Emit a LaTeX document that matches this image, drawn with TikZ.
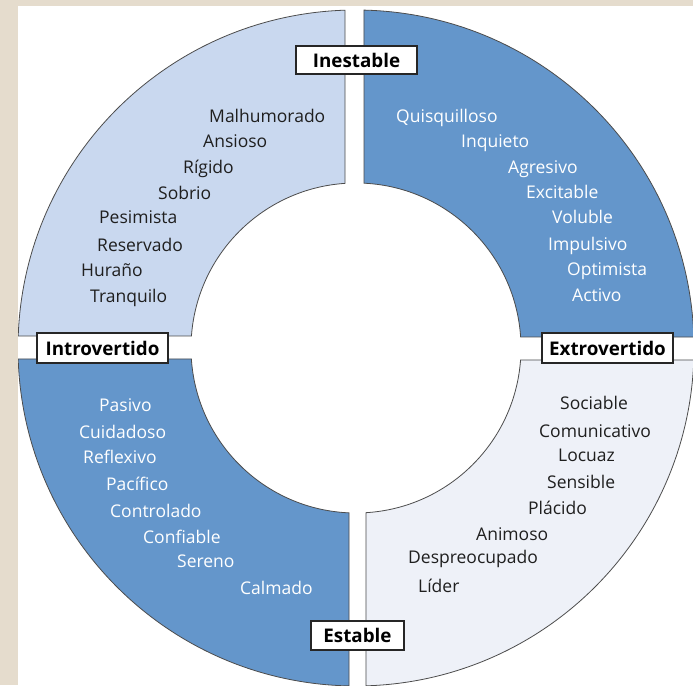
\documentclass[tikz,border=0pt]{standalone}
\usepackage{fontspec}
\setmainfont{Open Sans}
\definecolor{bgbeige}{HTML}{E5DCCD}
\definecolor{tlc}{HTML}{C9D8EF}
\definecolor{dkc}{HTML}{6496CB}
\definecolor{brc}{HTML}{EEF1F8}
\begin{document}
\begin{tikzpicture}[x=1pt,y=1pt,
  quad/.style={draw=black!70, line width=0.8pt},
  wrd/.style={anchor=base west, inner sep=0pt, font=\fontsize{17.5}{17.5}\selectfont},
  dk/.style={wrd, text=black!88},
  lt/.style={wrd, text=white},
  lab/.style={draw=black!85, line width=1.3pt, fill=white, inner sep=0pt,
    font=\bfseries\fontsize{18.8}{18.8}\selectfont}]
\useasboundingbox (0,0) rectangle (693,685);
\fill[bgbeige] (0,0) rectangle (693,685);
\fill[white] (18,0) rectangle (693,679);
\begin{scope}
\clip (18,0) rectangle (693,679);
\begin{scope}[shift={(356,337)}]
% top-left
\draw[quad,fill=tlc] ({90+asin(11/338)}:338) arc[start angle={90+asin(11/338)}, end angle={180-asin(12/338)}, radius=338]
  -- ({180-asin(12/165)}:165) arc[start angle={180-asin(12/165)}, end angle={90+asin(11/165)}, radius=165] -- cycle;
% top-right
\draw[quad,fill=dkc] ({asin(11/338)}:338) arc[start angle={asin(11/338)}, end angle={90-asin(8/338)}, radius=338]
  -- ({90-asin(8/165)}:165) arc[start angle={90-asin(8/165)}, end angle={asin(11/165)}, radius=165] -- cycle;
% bottom-left
\draw[quad,fill=dkc] ({180+asin(11/338)}:338) arc[start angle={180+asin(11/338)}, end angle={270-asin(7/338)}, radius=338]
  -- ({270-asin(7/165)}:165) arc[start angle={270-asin(7/165)}, end angle={180+asin(11/165)}, radius=165] -- cycle;
% bottom-right
\draw[quad,fill=brc] ({270+asin(10/338)}:338) arc[start angle={270+asin(10/338)}, end angle={360-asin(12/338)}, radius=338]
  -- ({360-asin(12/165)}:165) arc[start angle={360-asin(12/165)}, end angle={270+asin(10/165)}, radius=165] -- cycle;
\end{scope}
\end{scope}
% top-left words
\node[dk] (w1) at (209,562) {Malhumorado};
\node[dk] (w2) at (203,537) {Ansioso};
\node[dk] (w3) at (183,511) {Rígido};
\node[dk] (w4) at (158,485) {Sobrio};
\node[dk] (w5) at (99,461) {Pesimista};
\node[dk] (w6) at (97,433) {Reservado};
\node[dk] (w7) at (81,408) {Huraño};
\node[dk] (w8) at (90,382) {Tranquilo};
% top-right words
\node[lt] (e1) at (396,562) {Quisquilloso};
\node[lt] (e2) at (461,537) {Inquieto};
\node[lt] (e3) at (508,511) {Agresivo};
\node[lt] (e4) at (526,486) {Excitable};
\node[lt] (e5) at (552,461) {Voluble};
\node[lt] (e6) at (548,434) {Impulsivo};
\node[lt] (e7) at (567,409) {Optimista};
\node[lt] (e8) at (572,383) {Activo};
% bottom-right words
\node[dk] (s1) at (560,275) {Sociable};
\node[dk] (s2) at (539,247) {Comunicativo};
\node[dk] (s3) at (558,223) {Locuaz};
\node[dk] (s4) at (547,196) {Sensible};
\node[dk] (s5) at (528,170) {Plácido};
\node[dk] (s6) at (476,144) {Animoso};
\node[dk] (s7) at (408,121) {Despreocupado};
\node[dk] (s8) at (418,92) {Líder};
% bottom-left words
\node[lt] (p1) at (99,273) {Pasivo};
\node[lt] (p2) at (79,246) {Cuidadoso};
\node[lt] (p3) at (83,221) {Reflexivo};
\node[lt] (p4) at (106,194) {Pacífico};
\node[lt] (p5) at (110,167) {Controlado};
\node[lt] (p6) at (143,141) {Confiable};
\node[lt] (p7) at (177,117) {Sereno};
\node[lt] (p8) at (240,90) {Calmado};
% axis labels
\node[lab, minimum width=121pt, minimum height=28pt] (ines) at (356.5,625) {Inestable};
\node[lab, minimum width=131pt, minimum height=30pt] (intro) at (102.5,337) {Introvertido};
\node[lab, minimum width=131pt, minimum height=30pt] (extro) at (607.5,337) {Extrovertido};
\node[lab, minimum width=93pt, minimum height=29pt] (est) at (357.5,49.5) {Estable};
\end{tikzpicture}
\end{document}
